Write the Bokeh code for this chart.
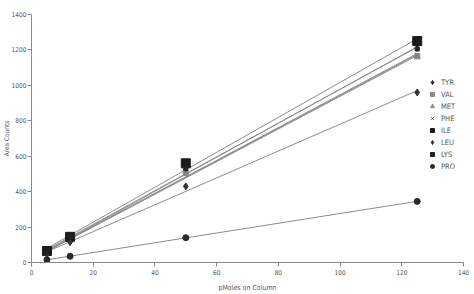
import numpy as np
from bokeh.plotting import figure
from bokeh.models import Legend, LegendItem, Range1d, FixedTicker, Label
from bokeh.embed import file_html
from bokeh.resources import INLINE

pmoles = [5, 12.5, 50, 125]
series_names = ["TYR", "VAL", "MET", "PHE", "ILE", "LEU", "LYS", "PRO"]
tyr = [55, 135, 520, 1210]
val = [55, 130, 505, 1165]
met = [52, 128, 500, 1160]
phe = [55, 130, 510, 1170]
ile = [65, 145, 560, 1250]
leu = [45, 115, 430, 960]
lys = [58, 140, 530, 1205]
pro = [15, 35, 140, 345]
x_ticks = [0, 20, 40, 60, 80, 100, 120, 140]
y_ticks = [0, 200, 400, 600, 800, 1000, 1200, 1400]

series = [tyr, val, met, phe, ile, leu, lys, pro]
styles = [
    dict(marker="diamond", size=6, color="#222222"),
    dict(marker="square", size=5, color="#8a8a8a"),
    dict(marker="triangle", size=6, color="#8a8a8a"),
    dict(marker="x", size=6, color="#777777"),
    dict(marker="square", size=9, color="#1a1a1a"),
    dict(marker="diamond", size=7, color="#333333"),
    dict(marker="square", size=4, color="#222222"),
    dict(marker="circle", size=6, color="#2a2a2a"),
]

FONT = "Liberation Sans Narrow, DejaVu Sans Condensed, Liberation Sans, sans-serif"
TXT = "#555555"

p = figure(width=474, height=294, output_backend="svg", toolbar_location=None,
           x_range=Range1d(0, 140), y_range=Range1d(0, 1400),
           min_border_left=29, min_border_right=11, min_border_top=14, min_border_bottom=30)
p.background_fill_color = "white"
p.border_fill_color = "white"
p.outline_line_color = None
p.grid.visible = False

# trend lines
for ys in series:
    m, b = np.polyfit(pmoles, ys, 1)
    xs = [pmoles[0], pmoles[-1]]
    p.line(xs, [m * v + b for v in xs], line_color="#8c8c8c", line_width=1)

items = []
for name, ys, st in zip(series_names, series, styles):
    r = p.scatter(pmoles, ys, marker=st["marker"], size=st["size"],
                  fill_color=st["color"], line_color=st["color"], line_width=1)
    items.append(LegendItem(label=name, renderers=[r]))

legend = Legend(items=items, location=(396, 90), background_fill_alpha=0,
                border_line_color=None, padding=0, margin=0, spacing=0,
                label_height=12, glyph_height=12, glyph_width=10, label_standoff=4,
                label_text_font=FONT, label_text_font_size="7.5px",
                label_text_color=TXT)
p.add_layout(legend, "center")

for ax in (p.xaxis, p.yaxis):
    ax.axis_line_color = "#8a8a8a"
    ax.major_tick_line_color = "#8a8a8a"
    ax.minor_tick_line_color = None
    ax.major_tick_out = 4
    ax.major_tick_in = 0
    ax.major_label_text_font = FONT
    ax.major_label_text_font_size = "6.5px"
    ax.major_label_text_color = TXT
    ax.axis_label_text_font = FONT
    ax.axis_label_text_font_size = "7px"
    ax.axis_label_text_font_style = "normal"
    ax.axis_label_text_color = TXT

p.xaxis.ticker = FixedTicker(ticks=x_ticks)
p.yaxis.ticker = FixedTicker(ticks=y_ticks)
p.xaxis.axis_label = "pMoles on Column"
p.xaxis.major_label_standoff = 3
p.yaxis.major_label_standoff = 1
p.xaxis.axis_label_standoff = 6

ylab = Label(x=6, y=700, x_units="screen", y_units="data", text="Area Counts",
             angle=np.pi / 2, text_align="center", text_baseline="middle",
             text_font=FONT, text_font_size="6.5px", text_color=TXT)
p.add_layout(ylab, "left")

open("out.html", "w").write(file_html(p, INLINE))
